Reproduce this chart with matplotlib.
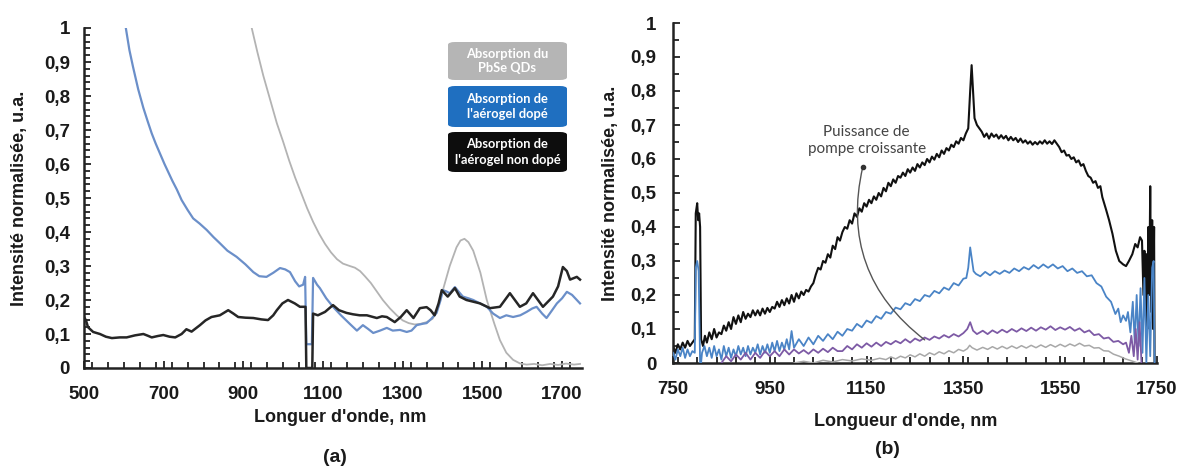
import matplotlib
matplotlib.use("Agg")
import matplotlib.pyplot as plt
from matplotlib.patches import FancyBboxPatch
from matplotlib.ticker import MultipleLocator, FuncFormatter

plt.rcParams['font.family'] = ['Liberation Sans', 'DejaVu Sans']

# ---------------- Panel (a) data ----------------
gray_a_x = [921, 935, 950, 967, 984, 1000, 1015, 1030, 1045, 1060, 1075, 1090, 1105, 1120, 1135,
            1150, 1167, 1180, 1193, 1205, 1220, 1235, 1250, 1268, 1285, 1300, 1315, 1330, 1345,
            1360, 1375, 1388, 1401, 1418, 1435, 1445, 1455, 1465, 1477, 1495, 1511, 1530, 1544,
            1560, 1577, 1595, 1611, 1630, 1650, 1670, 1690, 1710, 1730, 1745]
gray_a_y = [1.0, 0.93, 0.86, 0.79, 0.72, 0.665, 0.61, 0.56, 0.515, 0.47, 0.43, 0.395, 0.365, 0.34,
            0.32, 0.307, 0.3, 0.295, 0.285, 0.27, 0.25, 0.225, 0.2, 0.175, 0.155, 0.14, 0.132,
            0.128, 0.13, 0.135, 0.145, 0.175, 0.23, 0.3, 0.355, 0.375, 0.38, 0.37, 0.345, 0.28,
            0.2, 0.13, 0.082, 0.045, 0.024, 0.013, 0.01, 0.012, 0.008, 0.012, 0.009, 0.013, 0.01,
            0.012]

blue_a_x = [605, 614, 623, 636, 649, 660, 670, 680, 691, 702, 712, 722, 733, 745, 760, 774, 790,
            808, 825, 841, 860, 883, 905, 925, 940, 958, 975, 992, 1005, 1017, 1030, 1040, 1050,
            1055, 1058, 1072, 1075, 1085, 1092, 1108, 1125, 1145, 1167, 1185, 1200, 1213, 1226,
            1243, 1260, 1275, 1293, 1310, 1322, 1335, 1350, 1360, 1372, 1385, 1395, 1401, 1410,
            1418, 1431, 1440, 1451, 1465, 1477, 1494, 1511, 1527, 1544, 1560, 1577, 1595, 1611,
            1625, 1636, 1650, 1661, 1675, 1687, 1700, 1712, 1725, 1737, 1745]
blue_a_y = [1.0, 0.935, 0.886, 0.82, 0.765, 0.725, 0.69, 0.66, 0.63, 0.6, 0.575, 0.55, 0.525,
            0.494, 0.465, 0.44, 0.425, 0.406, 0.385, 0.367, 0.345, 0.327, 0.305, 0.282, 0.27,
            0.268, 0.28, 0.294, 0.29, 0.282, 0.255, 0.24, 0.245, 0.268, 0.07, 0.07, 0.265, 0.245,
            0.235, 0.205, 0.18, 0.155, 0.13, 0.11, 0.126, 0.115, 0.103, 0.11, 0.118, 0.11, 0.112,
            0.106, 0.11, 0.126, 0.13, 0.132, 0.145, 0.162, 0.2, 0.229, 0.225, 0.22, 0.238, 0.225,
            0.21, 0.205, 0.2, 0.19, 0.18, 0.16, 0.147, 0.155, 0.15, 0.155, 0.165, 0.175, 0.18,
            0.16, 0.147, 0.17, 0.19, 0.205, 0.224, 0.215, 0.2, 0.19]

black_a_x = [500, 505, 510, 523, 540, 555, 570, 590, 607, 628, 649, 660, 670, 685, 699, 715, 729,
             745, 757, 770, 791, 805, 820, 841, 862, 875, 887, 905, 925, 945, 962, 975, 984, 998,
             1012, 1029, 1042, 1050, 1056, 1058, 1073, 1075, 1087, 1105, 1125, 1140, 1159, 1175,
             1192, 1210, 1235, 1248, 1260, 1280, 1295, 1310, 1327, 1343, 1360, 1370, 1380, 1390,
             1398, 1413, 1431, 1443, 1460, 1477, 1494, 1519, 1544, 1569, 1594, 1610, 1627, 1652,
             1677, 1690, 1702, 1712, 1720, 1737, 1745]
black_a_y = [0.15, 0.14, 0.12, 0.106, 0.1, 0.092, 0.088, 0.09, 0.09, 0.096, 0.1, 0.095, 0.09, 0.094,
             0.097, 0.092, 0.09, 0.1, 0.114, 0.107, 0.126, 0.14, 0.15, 0.155, 0.17, 0.16, 0.15,
             0.148, 0.147, 0.143, 0.141, 0.155, 0.17, 0.19, 0.2, 0.19, 0.18, 0.18, 0.18, 0.0, 0.0,
             0.16, 0.155, 0.165, 0.185, 0.17, 0.162, 0.158, 0.155, 0.155, 0.147, 0.152, 0.15, 0.135,
             0.15, 0.17, 0.147, 0.176, 0.179, 0.17, 0.155, 0.19, 0.229, 0.21, 0.235, 0.21, 0.2,
             0.195, 0.19, 0.176, 0.18, 0.22, 0.18, 0.19, 0.22, 0.18, 0.21, 0.24, 0.297, 0.285, 0.26,
             0.268, 0.26]

legend_labels = ["Absorption du\nPbSe QDs", "Absorption de\nl'aérogel dopé",
                 "Absorption de\nl'aérogel non dopé"]

# ---------------- Panel (b) data ----------------
black_b_x = [750, 755, 760, 765, 770, 775, 780, 785, 790, 795, 797, 800, 802, 804, 806, 808, 812,
             816, 820, 825, 830, 835, 840, 845, 850, 855, 860, 865, 870, 875, 880, 885, 890, 895,
             900, 905, 910, 915, 920, 925, 930, 935, 940, 945, 950, 955, 960, 965, 970, 975, 980,
             985, 990, 995, 1000, 1005, 1010, 1015, 1020, 1025, 1030, 1035, 1040, 1045, 1050, 1055,
             1060, 1065, 1070, 1075, 1080, 1085, 1090, 1095,
             1100, 1105, 1110, 1115, 1120, 1125, 1130, 1135, 1140, 1145, 1150, 1155, 1160, 1165,
             1170, 1175, 1180, 1185, 1190, 1195, 1200, 1205, 1210, 1215, 1220, 1225, 1230, 1235,
             1240, 1245, 1250, 1255, 1260, 1265, 1270, 1275, 1280, 1285, 1290, 1295, 1300, 1305,
             1310, 1315, 1320, 1325, 1330, 1335, 1340, 1345, 1350, 1355, 1360, 1364, 1367, 1370,
             1373, 1378, 1383, 1388, 1393, 1398, 1403, 1408, 1413, 1418, 1423, 1428, 1433, 1438,
             1443, 1448, 1453, 1458, 1463, 1468, 1473, 1478, 1483, 1488, 1493, 1498, 1503, 1508,
             1513, 1518, 1523, 1528, 1533, 1538, 1543, 1548, 1553, 1558, 1563, 1568, 1573, 1578,
             1583, 1588, 1593, 1598, 1603, 1608, 1613, 1618, 1623, 1628, 1633, 1637,
             1645, 1651, 1658, 1665, 1672, 1680, 1686, 1692, 1699, 1705, 1710, 1715, 1719,
             1722, 1724, 1726, 1728, 1730, 1732, 1734, 1736, 1738, 1740, 1742, 1744, 1745]
black_b_y = [0.05, 0.03, 0.055, 0.04, 0.06, 0.045, 0.065, 0.05, 0.06, 0.07, 0.44, 0.47, 0.42, 0.44,
             0.40, 0.07, 0.05, 0.08, 0.06, 0.09, 0.07, 0.1, 0.075, 0.09, 0.085, 0.11, 0.095, 0.12,
             0.1, 0.135, 0.115, 0.14, 0.12, 0.15, 0.13, 0.145, 0.135, 0.155, 0.14, 0.155, 0.14,
             0.16, 0.145, 0.162, 0.15, 0.165, 0.16, 0.18, 0.165, 0.185, 0.17, 0.19, 0.175, 0.2,
             0.18, 0.205, 0.19, 0.21, 0.2, 0.215, 0.21, 0.225, 0.235, 0.26, 0.28, 0.275, 0.3, 0.295,
             0.32, 0.31, 0.345, 0.335, 0.37, 0.36,
             0.385, 0.40, 0.395, 0.42, 0.41, 0.44, 0.43, 0.455, 0.445, 0.47, 0.46, 0.48, 0.47,
             0.49, 0.48, 0.50, 0.49, 0.515, 0.505, 0.53, 0.52, 0.54, 0.53, 0.55, 0.545, 0.56,
             0.55, 0.57, 0.56, 0.575, 0.565, 0.585, 0.575, 0.59, 0.582, 0.6, 0.59, 0.607, 0.598,
             0.615, 0.605, 0.625, 0.615, 0.632, 0.625, 0.642, 0.635, 0.652, 0.645, 0.662, 0.655,
             0.675, 0.69, 0.8, 0.876, 0.8, 0.72, 0.70, 0.69, 0.68, 0.665, 0.675, 0.66, 0.675,
             0.665, 0.672, 0.66, 0.67, 0.66, 0.668, 0.655, 0.665, 0.655, 0.662, 0.65, 0.66, 0.648,
             0.655, 0.645, 0.652, 0.642, 0.65, 0.643, 0.652, 0.645, 0.655, 0.645, 0.652, 0.644,
             0.655, 0.645, 0.635, 0.62, 0.625, 0.61, 0.612, 0.6, 0.605, 0.59, 0.596, 0.58, 0.585,
             0.565, 0.55, 0.545, 0.53, 0.535, 0.515, 0.52, 0.488,
             0.45, 0.42, 0.38, 0.33, 0.30, 0.29, 0.285, 0.3, 0.32, 0.35, 0.34, 0.37, 0.36,
             0.2, 0.33, 0.15, 0.32, 0.1, 0.4, 0.2, 0.52, 0.15, 0.42, 0.1, 0.4, 0.0]

blue_b_x = [750, 755, 760, 765, 770, 775, 780, 785, 790, 795, 797, 800, 803, 806, 808, 810, 815,
            820, 825, 830, 835, 840, 845, 850, 855, 860, 865, 870, 875, 880, 885, 890, 895, 900,
            905, 910, 915, 920, 925, 930, 935, 940, 945, 950, 955, 960, 965, 970, 975, 980, 985,
            990, 995, 1000, 1010, 1020, 1030, 1040, 1050, 1060, 1070, 1080, 1090, 1100, 1110,
            1120, 1130, 1140, 1150, 1160, 1170, 1180, 1190, 1200, 1210, 1220, 1230, 1240, 1250,
            1260, 1270, 1280, 1290, 1300, 1310, 1320, 1330, 1340, 1350, 1356, 1360, 1364, 1367,
            1371, 1376, 1385, 1395, 1405, 1415, 1425, 1435, 1445, 1455, 1465, 1475, 1485, 1495,
            1505, 1515, 1525, 1535, 1545, 1555, 1565, 1575, 1585, 1595, 1605, 1615, 1625, 1635,
            1645, 1655, 1664, 1670, 1675, 1680, 1686, 1690, 1695, 1700, 1704, 1708, 1712, 1716,
            1720, 1724, 1728, 1732, 1736, 1740, 1743, 1745]
blue_b_y = [0.03, 0.01, 0.04, 0.02, 0.045, 0.015, 0.04, 0.02, 0.035, 0.03, 0.28, 0.30, 0.27, 0.0,
            0.0, 0.03, 0.05, 0.02, 0.045, 0.015, 0.05, 0.02, 0.04, 0.01, 0.05, 0.02, 0.045, 0.015,
            0.04, 0.02, 0.05, 0.025, 0.045, 0.02, 0.05, 0.025, 0.045, 0.03, 0.055, 0.025, 0.05,
            0.03, 0.055, 0.03, 0.06, 0.035, 0.065, 0.035, 0.06, 0.04, 0.07, 0.04, 0.094, 0.045,
            0.07, 0.05, 0.075, 0.055, 0.08, 0.065, 0.085, 0.07, 0.092, 0.08, 0.1, 0.095, 0.115,
            0.105, 0.125, 0.118, 0.138, 0.13, 0.15, 0.145, 0.163, 0.158, 0.176, 0.17, 0.188,
            0.182, 0.2, 0.195, 0.212, 0.205, 0.222, 0.215, 0.235, 0.228, 0.248, 0.25, 0.28, 0.34,
            0.31, 0.27, 0.262, 0.255, 0.268, 0.258, 0.27, 0.262, 0.272, 0.265, 0.278, 0.27, 0.282,
            0.275, 0.288, 0.278, 0.29, 0.28, 0.29, 0.278, 0.285, 0.27, 0.278, 0.265, 0.27, 0.255,
            0.258, 0.235, 0.225, 0.195, 0.18, 0.144, 0.16, 0.12, 0.14, 0.124, 0.15, 0.09, 0.18,
            0.06, 0.2, 0.05, 0.22, 0.03, 0.25, 0.0, 0.2, 0.02, 0.28, 0.3, 0.0]

purple_b_x = [850, 860, 870, 880, 890, 900, 910, 920, 930, 940, 950, 960, 970, 980, 990, 1000,
              1010, 1020, 1030, 1040, 1050, 1060, 1070, 1080, 1090, 1100, 1110, 1120, 1130, 1140,
              1150, 1160, 1170, 1180, 1190, 1200, 1210, 1220, 1230, 1240, 1250, 1260, 1270, 1280,
              1290, 1300, 1310, 1320, 1330, 1340, 1350, 1358, 1364, 1370, 1378, 1390, 1400, 1410,
              1420, 1430, 1440, 1450, 1460, 1470, 1480, 1490, 1500, 1510, 1520, 1530, 1540, 1550,
              1560, 1570, 1580, 1590, 1600, 1610, 1620, 1630, 1640, 1650, 1660, 1670, 1680, 1686,
              1692, 1697, 1702, 1706, 1710, 1714, 1718]
purple_b_y = [0.0, 0.02, 0.005, 0.025, 0.01, 0.03, 0.01, 0.03, 0.015, 0.035, 0.02, 0.035, 0.02,
              0.04, 0.025, 0.04, 0.028, 0.038, 0.027, 0.04, 0.03, 0.042, 0.032, 0.045, 0.035,
              0.035, 0.05, 0.04, 0.055, 0.045, 0.058, 0.048, 0.06, 0.05, 0.062, 0.055, 0.065,
              0.058, 0.07, 0.06, 0.072, 0.065, 0.075, 0.068, 0.078, 0.072, 0.082, 0.075, 0.085,
              0.078, 0.088, 0.1, 0.12, 0.095, 0.085, 0.095, 0.085, 0.096, 0.088, 0.098, 0.09, 0.1,
              0.092, 0.102, 0.094, 0.104, 0.095, 0.105, 0.098, 0.108, 0.097, 0.105, 0.098, 0.106,
              0.095, 0.102, 0.09, 0.096, 0.082, 0.085, 0.072, 0.075, 0.062, 0.065, 0.055, 0.06,
              0.03, 0.08, 0.02, 0.1, 0.01, 0.12, 0.0]

gray_b_x = [1000, 1020, 1040, 1060, 1080, 1100, 1120, 1140, 1160, 1177, 1190, 1200, 1210, 1220,
            1230, 1240, 1250, 1260, 1270, 1280, 1290, 1300, 1310, 1320, 1330, 1340, 1350, 1358,
            1363, 1368, 1378, 1390, 1400, 1410, 1420, 1430, 1440, 1450, 1460, 1470, 1480, 1490,
            1500, 1510, 1520, 1530, 1540, 1550, 1560, 1570, 1580, 1590, 1600, 1610, 1620, 1630,
            1640, 1650, 1660, 1672, 1685, 1700, 1710]
gray_b_y = [0.0, 0.005, 0.0, 0.008, 0.003, 0.01, 0.006, 0.012, 0.008, 0.014, 0.01, 0.018, 0.012,
            0.02, 0.015, 0.024, 0.018, 0.027, 0.02, 0.03, 0.024, 0.033, 0.027, 0.036, 0.03, 0.04,
            0.035, 0.042, 0.052, 0.045, 0.038, 0.046, 0.04, 0.048, 0.041, 0.049, 0.042, 0.05,
            0.043, 0.051, 0.044, 0.052, 0.045, 0.053, 0.046, 0.054, 0.047, 0.055, 0.048, 0.056,
            0.05, 0.058, 0.05, 0.052, 0.044, 0.045, 0.036, 0.035, 0.026, 0.02, 0.012, 0.005, 0.0]

annot_text = "Puissance de\npompe croissante"
annot_start = (1142, 0.576)
annot_end = (1270, 0.068)

yticks = [0, 0.1, 0.2, 0.3, 0.4, 0.5, 0.6, 0.7, 0.8, 0.9, 1.0]
xticks_a = [500, 700, 900, 1100, 1300, 1500, 1700]
xticks_b = [750, 950, 1150, 1350, 1550, 1750]

# ---------------- Figure ----------------
W, H = 1181, 468
fig = plt.figure(figsize=(W / 100, H / 100), dpi=100)
ax_a = fig.add_axes([84 / W, 1 - 368 / H, (582 - 84) / W, (368 - 28) / H])
ax_b = fig.add_axes([673 / W, 1 - 363 / H, (1157 - 673) / W, (363 - 23) / H])

tick_color = '#1a1a1a'


def yfmt(v, pos):
    if abs(v) < 1e-9:
        return "0"
    if abs(v - 1) < 1e-9:
        return "1"
    return ("%.1f" % v).replace('.', ',')


def style(ax, xticks, xlim, yminor, ypad):
    ax.set_xlim(*xlim)
    ax.set_ylim(0, 1)
    for s in ['top', 'right']:
        ax.spines[s].set_visible(False)
    for s in ['left', 'bottom']:
        ax.spines[s].set_linewidth(1.8)
        ax.spines[s].set_color('#222222')
    ax.set_xticks(xticks)
    ax.set_yticks(yticks)
    ax.yaxis.set_major_formatter(FuncFormatter(yfmt))
    ax.xaxis.set_minor_locator(MultipleLocator(40))
    ax.yaxis.set_minor_locator(MultipleLocator(yminor))
    ax.tick_params(which='both', direction='in', color='#222222', width=1.3)
    ax.tick_params(which='major', length=5, labelsize=13.5, labelcolor=tick_color)
    ax.tick_params(which='minor', length=4)
    ax.tick_params(axis='x', which='major', pad=13)
    ax.tick_params(axis='y', which='major', pad=ypad)
    for lab in ax.get_xticklabels() + ax.get_yticklabels():
        lab.set_fontweight('bold')


# Panel (a)
ax_a.plot(gray_a_x, gray_a_y, color='#b3b3b3', lw=1.3, zorder=2)
ax_a.plot(blue_a_x, blue_a_y, color='#6b8fc9', lw=1.6, zorder=3)
ax_a.plot(black_a_x, black_a_y, color='#262626', lw=1.8, zorder=4)
style(ax_a, xticks_a, (500, 1750), 0.02, 10)

# Legend boxes (a)
box_colors = ['#b5b5b5', '#1f6fc0', '#0d0d0d']
box_tops = [42, 86, 132]
box_h = [38, 41, 40]
for lab, col, top, h in zip(legend_labels, box_colors, box_tops, box_h):
    x0, x1 = 448, 567
    patch = FancyBboxPatch((x0 / W, 1 - (top + h) / H), (x1 - x0) / W, h / H,
                           boxstyle="round,pad=0,rounding_size=0.006",
                           transform=fig.transFigure, facecolor=col, edgecolor='none',
                           zorder=5)
    fig.patches.append(patch)
    fig.text((x0 + x1) / 2 / W, 1 - (top + h / 2) / H, lab, ha='center', va='center',
             color='white', fontsize=9.3, fontweight='bold', family=['Lato', 'DejaVu Sans'],
             linespacing=1.3, zorder=6)

# Panel (b)
ax_b.plot(black_b_x, black_b_y, color='#111111', lw=1.5, zorder=2)
ax_b.plot(blue_b_x, blue_b_y, color='#4a84c6', lw=1.3, zorder=3)
ax_b.plot(purple_b_x, purple_b_y, color='#7d5aa5', lw=1.3, zorder=4)
ax_b.plot(gray_b_x, gray_b_y, color='#a8a8a8', lw=1.1, zorder=5)
style(ax_b, xticks_b, (750, 1750), 0.05, 12)

ax_b.annotate("", xy=annot_end, xytext=annot_start,
              arrowprops=dict(arrowstyle='-', color='#555555', lw=1.0,
                              shrinkA=0, shrinkB=0,
                              connectionstyle='arc3,rad=0.32'), zorder=6)
ax_b.plot([annot_start[0]], [annot_start[1]], 'o', color='#333333', ms=3, zorder=7)
ax_b.text(1150, 0.655, annot_text, ha='center', va='center', fontsize=11,
          color='#444444', family=['Lato', 'DejaVu Sans'], linespacing=1.25)

# Axis labels
ylab = "Intensité normalisée, u.a."
fig.text(20 / W, 1 - 198 / H, ylab, rotation=90, ha='center', va='center',
         fontsize=13, fontweight='bold', color=tick_color)
fig.text(610 / W, 1 - 193 / H, ylab, rotation=90, ha='center', va='center',
         fontsize=13, fontweight='bold', color=tick_color)
fig.text(340 / W, 1 - 418 / H, "Longuer d'onde, nm", ha='center', va='center',
         fontsize=13, fontweight='bold', color=tick_color)
fig.text(906 / W, 1 - 422 / H, "Longueur d'onde, nm", ha='center', va='center',
         fontsize=13, fontweight='bold', color=tick_color)
fig.text(335 / W, 1 - 457 / H, "(a)", ha='center', va='center',
         fontsize=14, fontweight='bold', color=tick_color)
fig.text(887 / W, 1 - 450 / H, "(b)", ha='center', va='center',
         fontsize=14, fontweight='bold', color=tick_color)

fig.savefig("out.png", dpi=100, facecolor='white')
